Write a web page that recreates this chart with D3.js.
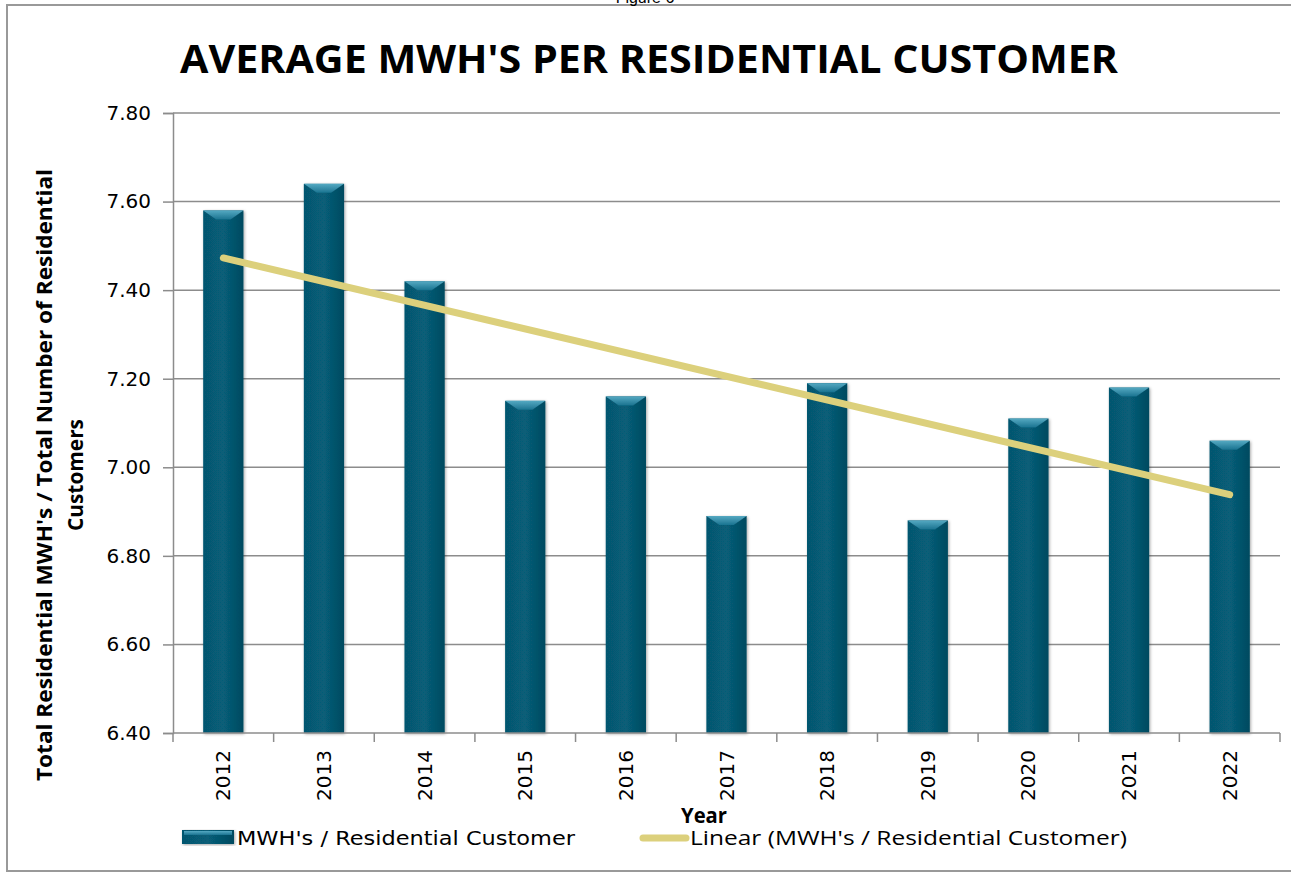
<!DOCTYPE html>
<html><head><meta charset="utf-8">
<script src="https://cdn.jsdelivr.net/npm/d3@7"></script>
<style>body{margin:0;background:#fff}svg{display:block}</style>
</head><body>
<svg id="c" width="1291" height="875"></svg>
<script>
const years = ["2012","2013","2014","2015","2016","2017","2018","2019","2020","2021","2022"];
const mwhPerCustomer = [7.58,7.64,7.42,7.15,7.16,6.89,7.19,6.88,7.11,7.18,7.06];
const yTicks = [6.40,6.60,6.80,7.00,7.20,7.40,7.60,7.80];
const titleText = "AVERAGE MWH'S PER RESIDENTIAL CUSTOMER";
const yTitleLines = ["Total Residential MWH's / Total Number of Residential","Customers"];
const xTitle = "Year";
const legendLabels = ["MWH's  / Residential Customer","Linear (MWH's  / Residential Customer)"];

const svg = d3.select("#c");
const m = {l:173, r:1280, t:113, b:733};
const trendColor = "#dcd07c";

// outer frame
svg.append("rect").attr("x",7).attr("y",5).attr("width",1290).attr("height",866)
  .attr("fill","none").attr("stroke","#999").attr("stroke-width",2);
svg.append("text").attr("x",645).attr("y",3).attr("text-anchor","middle")
  .attr("font-family","Liberation Sans, Arial").attr("font-size",16).attr("fill","#000").text("Figure 6");

const defs = svg.append("defs");
const g1 = defs.append("linearGradient").attr("id","bevel").attr("x1",0).attr("y1",0).attr("x2",0).attr("y2",1);
g1.append("stop").attr("offset","0%").attr("stop-color","#55a9c2");
g1.append("stop").attr("offset","100%").attr("stop-color","#1a7390");
const g2 = defs.append("linearGradient").attr("id","side").attr("x1",0).attr("y1",0).attr("x2",1).attr("y2",0);
g2.append("stop").attr("offset","0%").attr("stop-color","#06566f");
g2.append("stop").attr("offset","50%").attr("stop-color","#075e78");
g2.append("stop").attr("offset","100%").attr("stop-color","#044a60");
const f = defs.append("filter").attr("id","sh").attr("x","-20%").attr("y","-5%").attr("width","140%").attr("height","115%");
f.append("feDropShadow").attr("dx",1).attr("dy",1).attr("stdDeviation",1.5).attr("flood-color","#000").attr("flood-opacity",0.35);

const x = d3.scaleBand().domain(years).range([m.l,m.r]).paddingInner(0.6).paddingOuter(0.3);
const xb = d3.scaleBand().domain(years).range([m.l,m.r]);
const y = d3.scaleLinear().domain([6.4,7.8]).range([m.b,m.t]);

// gridlines
svg.append("g").selectAll("line").data(yTicks.slice(1)).join("line")
  .attr("x1",m.l).attr("x2",m.r).attr("y1",d=>y(d)).attr("y2",d=>y(d))
  .attr("stroke","#8c8c8c").attr("stroke-width",1.5);

// y axis
const ya = svg.append("g").attr("transform",`translate(${m.l},0)`)
  .call(d3.axisLeft(y).tickValues(yTicks).tickFormat(d3.format(".2f")).tickSize(10).tickPadding(12));
ya.select(".domain").attr("stroke","#8c8c8c").attr("stroke-width",1.5);
ya.selectAll(".tick line").attr("stroke","#8c8c8c").attr("stroke-width",1.5);
ya.selectAll("text").attr("font-family","DejaVu Sans, Verdana").attr("font-size",20).attr("fill","#000");

// bars
const bars = svg.append("g").selectAll("g").data(years).join("g").attr("filter","url(#sh)");
bars.append("rect").attr("x",d=>x(d)).attr("width",x.bandwidth())
  .attr("y",(d,i)=>y(mwhPerCustomer[i])).attr("height",(d,i)=>m.b-y(mwhPerCustomer[i]))
  .attr("fill","url(#side)");
bars.append("path").attr("d",(d,i)=>{
  const x0=x(d), w=x.bandwidth(), t=y(mwhPerCustomer[i]), h=9;
  return `M${x0},${t}L${x0+w},${t}L${x0+w-13},${t+h}L${x0+13},${t+h}Z`;
}).attr("fill","url(#bevel)");

// x axis
const xa = svg.append("g").attr("transform",`translate(0,${m.b})`);
xa.append("line").attr("x1",m.l).attr("x2",m.r).attr("stroke","#8c8c8c").attr("stroke-width",1.5);
const bounds = years.map(d=>xb(d)).concat([m.r]);
xa.selectAll(".tk").data(bounds).join("line").attr("class","tk")
  .attr("x1",d=>d).attr("x2",d=>d).attr("y1",0).attr("y2",9).attr("stroke","#8c8c8c").attr("stroke-width",1.5);
xa.selectAll("text").data(years).join("text")
  .attr("transform",d=>`translate(${xb(d)+xb.bandwidth()/2+7},17) rotate(-90)`)
  .attr("text-anchor","end").attr("font-family","DejaVu Sans, Verdana").attr("font-size",20).attr("fill","#000").text(d=>d);

// trend line (least squares)
const n = years.length, idx = d3.range(n);
const mx = d3.mean(idx), my = d3.mean(mwhPerCustomer);
const slope = d3.sum(idx,i=>(i-mx)*(mwhPerCustomer[i]-my))/d3.sum(idx,i=>(i-mx)**2);
const icpt = my - slope*mx;
svg.append("path").datum([0,n-1])
  .attr("d",d3.line().x(i=>xb(years[i])+xb.bandwidth()/2).y(i=>y(icpt+slope*i)))
  .attr("stroke",trendColor).attr("stroke-width",7).attr("stroke-linecap","round").attr("fill","none");

// titles
svg.append("text").attr("x",649).attr("y",73).attr("text-anchor","middle")
  .attr("font-family","Open Sans, sans-serif").attr("font-weight","bold").attr("font-size",40)
  .attr("textLength",938).attr("lengthAdjust","spacingAndGlyphs").text(titleText);
const yt = svg.append("text").attr("transform","translate(52,475) rotate(-90)").attr("text-anchor","middle")
  .attr("font-family","Open Sans, sans-serif").attr("font-weight","bold").attr("font-size",21);
yt.append("tspan").attr("x",0).attr("y",0).attr("textLength",612).attr("lengthAdjust","spacingAndGlyphs").text(yTitleLines[0]);
yt.append("tspan").attr("x",0).attr("y",31).attr("textLength",112).attr("lengthAdjust","spacingAndGlyphs").text(yTitleLines[1]);
svg.append("text").attr("x",704).attr("y",823).attr("text-anchor","middle")
  .attr("font-family","Open Sans, sans-serif").attr("font-weight","bold").attr("font-size",21)
  .attr("textLength",46).attr("lengthAdjust","spacingAndGlyphs").text(xTitle);

// legend
const lg = svg.append("g");
lg.append("rect").attr("x",182).attr("y",830).attr("width",52).attr("height",14).attr("fill","url(#side)").attr("filter","url(#sh)");
lg.append("rect").attr("x",184).attr("y",831).attr("width",48).attr("height",4).attr("fill","url(#bevel)");
lg.append("text").attr("x",237).attr("y",845).attr("font-family","DejaVu Sans, Verdana").attr("font-size",20)
  .attr("textLength",338).attr("lengthAdjust","spacingAndGlyphs").text(legendLabels[0]);
lg.append("line").attr("x1",643).attr("x2",686).attr("y1",838).attr("y2",838)
  .attr("stroke",trendColor).attr("stroke-width",7).attr("stroke-linecap","round");
lg.append("text").attr("x",690).attr("y",845).attr("font-family","Open Sans, sans-serif").attr("font-size",20)
  .attr("textLength",437).attr("lengthAdjust","spacingAndGlyphs").text(legendLabels[1]);
</script>
</body></html>
